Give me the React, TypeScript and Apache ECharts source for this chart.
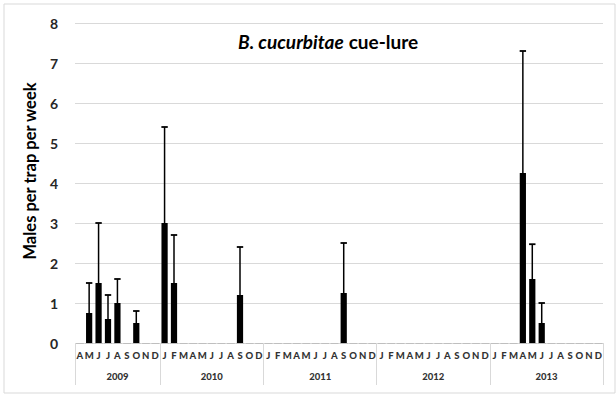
import React, { useEffect, useRef } from "react";
import * as echarts from "echarts";

// Month labels per year
const months2009 = ["A", "M", "J", "J", "A", "S", "O", "N", "D"];
const months2010 = ["J", "F", "M", "A", "M", "J", "J", "A", "S", "O", "D"];
const months2011 = ["J", "F", "M", "A", "M", "J", "J", "A", "S", "O", "N", "D"];
const months2012 = ["J", "F", "M", "A", "M", "J", "J", "A", "S", "O", "N", "D"];
const months2013 = ["J", "F", "M", "A", "M", "J", "J", "A", "S", "O", "N", "D"];

const years = ["2009", "2010", "2011", "2012", "2013"];

// Males per trap per week (means)
const values2009 = [0, 0.75, 1.5, 0.6, 1.0, 0, 0.5, 0, 0];
const values2010 = [3.0, 1.5, 0, 0, 0, 0, 0, 0, 1.2, 0, 0];
const values2011 = [0, 0, 0, 0, 0, 0, 0, 0, 1.25, 0, 0, 0];
const values2012 = [0, 0, 0, 0, 0, 0, 0, 0, 0, 0, 0, 0];
const values2013 = [0, 0, 0, 4.25, 1.6, 0.5, 0, 0, 0, 0, 0, 0];

// Upper end of error bars
const errors2009 = [0, 1.5, 3.0, 1.2, 1.6, 0, 0.8, 0, 0];
const errors2010 = [5.4, 2.7, 0, 0, 0, 0, 0, 0, 2.4, 0, 0];
const errors2011 = [0, 0, 0, 0, 0, 0, 0, 0, 2.5, 0, 0, 0];
const errors2012 = [0, 0, 0, 0, 0, 0, 0, 0, 0, 0, 0, 0];
const errors2013 = [0, 0, 0, 7.3, 2.47, 1.0, 0, 0, 0, 0, 0, 0];

const yTicks = [0, 1, 2, 3, 4, 5, 6, 7, 8];

export default function App() {
  const ref = useRef<HTMLDivElement>(null);

  useEffect(() => {
    if (!ref.current) return;
    const chart = echarts.init(ref.current, undefined, { renderer: "svg" });

    const monthGroups = [months2009, months2010, months2011, months2012, months2013];
    const monthLabels = monthGroups.flat();
    const values = [values2009, values2010, values2011, values2012, values2013].flat();
    const errors = [errors2009, errors2010, errors2011, errors2012, errors2013].flat();
    const n = monthLabels.length;

    // Year axis on half-month boundaries (boundaryGap false)
    const yearData: string[] = new Array(2 * n + 1).fill("");
    const boundaries = new Set<number>();
    let start = 0;
    monthGroups.forEach((g, i) => {
      boundaries.add(start * 2);
      yearData[start * 2 + g.length] = years[i];
      start += g.length;
    });
    boundaries.add(start * 2);

    const errData = values
      .map((v, i) => [i, v, errors[i]])
      .filter((d) => d[2] > d[1]);

    const font = "Lato, 'Open Sans', sans-serif";

    chart.setOption({
      animation: false,
      backgroundColor: "#ffffff",
      title: {
        text: "{i|B. cucurbitae} {b|cue-lure}",
        left: 233,
        top: 27,
        textStyle: {
          rich: {
            i: { fontFamily: font, fontSize: 19, fontWeight: "bold", fontStyle: "italic", color: "#000" },
            b: { fontFamily: font, fontSize: 19, fontWeight: "bold", color: "#000" },
          },
        },
      },
      graphic: [
        {
          type: "rect",
          shape: { x: 4, y: 4, width: 611, height: 389 },
          style: { fill: "none", stroke: "#d9d9d9", lineWidth: 1 },
          silent: true,
        },
      ],
      grid: { left: 75, right: 13, top: 23, bottom: 51, containLabel: false },
      xAxis: [
        {
          type: "category",
          data: monthLabels,
          position: "bottom",
          boundaryGap: true,
          axisLine: {
            show: true,
            lineStyle: { color: "#bfbfbf", width: 1, type: [7.03, 2.4], dashOffset: 8.23 },
          },
          axisTick: { show: false },
          axisLabel: {
            interval: 0,
            margin: 7,
            fontFamily: font,
            fontSize: 9.5,
            fontWeight: 900,
            color: "#333333",
          },
          splitLine: { show: false },
        },
        {
          type: "category",
          data: yearData,
          position: "bottom",
          boundaryGap: false,
          axisLine: { show: false },
          axisTick: {
            show: true,
            length: 42,
            interval: (i: number) => boundaries.has(i),
            lineStyle: { color: "#d9d9d9", width: 1 },
          },
          axisLabel: {
            interval: 0,
            margin: 28,
            fontFamily: font,
            fontSize: 9.5,
            fontWeight: 900,
            color: "#333333",
          },
          splitLine: { show: false },
        },
      ],
      yAxis: {
        type: "value",
        min: yTicks[0],
        max: yTicks[yTicks.length - 1],
        interval: 1,
        name: "Males per trap per week",
        nameLocation: "middle",
        nameGap: 36,
        nameTextStyle: {
          fontFamily: font,
          fontSize: 16.5,
          fontWeight: "bold",
          color: "#000",
          padding: [0, 0, 0, 24],
        },
        axisLine: { show: false },
        axisTick: { show: false },
        axisLabel: { margin: 17, fontFamily: font, fontSize: 14, fontWeight: "bold", color: "#262626" },
        splitLine: { lineStyle: { color: "#d9d9d9", width: 1 } },
      },
      series: [
        {
          type: "bar",
          xAxisIndex: 0,
          data: values,
          barWidth: "66%",
          itemStyle: { color: "#000000" },
        },
        {
          type: "custom",
          xAxisIndex: 0,
          data: errData,
          z: 3,
          renderItem: (params: any, api: any) => {
            const idx = api.value(0);
            const base = api.coord([idx, api.value(1)]);
            const top = api.coord([idx, api.value(2)]);
            const half = 3.2;
            return {
              type: "group",
              children: [
                {
                  type: "line",
                  shape: { x1: base[0], y1: base[1], x2: top[0], y2: top[1] },
                  style: { stroke: "#000", lineWidth: 1.5 },
                },
                {
                  type: "line",
                  shape: { x1: top[0] - half, y1: top[1], x2: top[0] + half, y2: top[1] },
                  style: { stroke: "#000", lineWidth: 1.8 },
                },
              ],
            };
          },
        },
      ],
    });

    return () => chart.dispose();
  }, []);

  return (
    <div
      ref={ref}
      style={{ position: "fixed", left: 0, top: 0, width: 616, height: 394 }}
    />
  );
}
